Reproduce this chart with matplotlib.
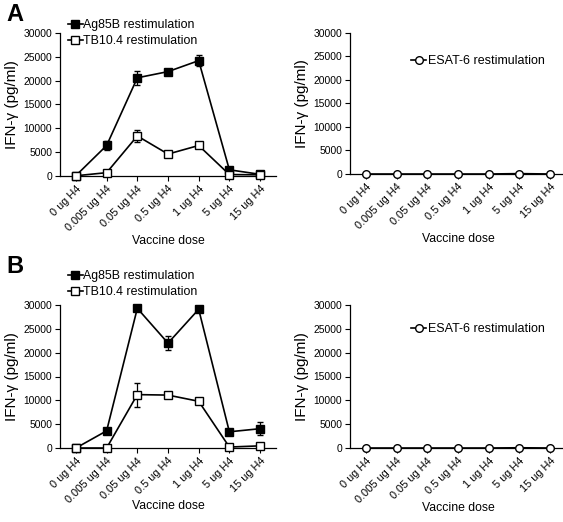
import matplotlib
matplotlib.use("Agg")
import matplotlib.pyplot as plt
from matplotlib.lines import Line2D
import numpy as np

plt.rcParams['font.family'] = ['Liberation Sans', 'DejaVu Sans']

doses = ["0 ug H4", "0.005 ug H4", "0.05 ug H4", "0.5 ug H4", "1 ug H4", "5 ug H4", "15 ug H4"]
yticks = [0, 5000, 10000, 15000, 20000, 25000, 30000]

# Panel A
a_ag85b = [100, 6400, 20600, 21900, 24200, 1300, 350]
a_ag85b_err = [0, 850, 1450, 300, 1150, 0, 0]
a_tb104 = [50, 700, 8400, 4600, 6400, 300, 250]
a_tb104_err = [0, 0, 1300, 300, 300, 0, 0]
a_esat6 = [0, 0, 0, 0, 0, 80, 0]

# Panel B
b_ag85b = [0, 3600, 29300, 22000, 29100, 3400, 4050]
b_ag85b_err = [0, 0, 0, 1400, 0, 0, 1300]
b_tb104 = [0, 0, 11200, 11100, 9800, 200, 450]
b_tb104_err = [0, 0, 2500, 0, 300, 0, 0]
b_esat6 = [0, 0, 0, 0, 0, 50, 0]

W, H = 563, 522
fig = plt.figure(figsize=(W / 100, H / 100), dpi=100)

def ax_at(x0, y_top, y_bot, x1):
    return fig.add_axes([x0 / W, 1 - y_bot / H, (x1 - x0) / W, (y_bot - y_top) / H])

def style(ax, xlabel_y, axis_bot):
    for s in ['top', 'right']:
        ax.spines[s].set_visible(False)
    for s in ['left', 'bottom']:
        ax.spines[s].set_linewidth(0.9)
    ax.set_ylim(0, 30000)
    ax.set_xlim(-0.52, 6.52)
    ax.set_yticks(yticks)
    ax.set_yticklabels([str(v) for v in yticks], fontsize=7.4)
    ax.set_xticks(range(len(doses)))
    ax.set_xticklabels(doses, rotation=45, ha='right', rotation_mode='anchor', fontsize=7.9)
    ax.tick_params(axis='both', direction='out', length=3.5, width=0.8, pad=2)
    ax.set_ylabel("IFN-\u03b3 (pg/ml)", fontsize=11, labelpad=3)
    ax.set_xlabel("Vaccine dose", fontsize=8.8)
    ax.xaxis.set_label_coords(0.5, -(xlabel_y - axis_bot) / 143)
    ax.xaxis.label.set_va('center')

x = np.arange(len(doses))
lkw = dict(color='black', lw=1.2, ms=5.5, mew=1.0, capsize=2.5, elinewidth=0.9, capthick=0.9, clip_on=False)

def left_panel(ax, ag, agerr, tb, tberr, legend_y, xlabel_y, axis_bot):
    style(ax, xlabel_y, axis_bot)
    ax.errorbar(x, ag, yerr=agerr, marker='s', mfc='black', mec='black', zorder=4, **lkw)
    ax.errorbar(x, tb, yerr=tberr, marker='s', mfc='white', mec='black', zorder=5, **lkw)
    h1 = Line2D([], [], color='black', lw=1.2, marker='s', ms=5.5, mfc='black', mec='black')
    h2 = Line2D([], [], color='black', lw=1.2, marker='s', ms=5.5, mfc='white', mec='black')
    fig.legend([h1, h2], ["Ag85B restimulation", "TB10.4 restimulation"],
               loc='upper left', bbox_to_anchor=(68 / W, 1 - legend_y / H),
               frameon=False, fontsize=8.9, handlelength=1.2, handletextpad=0.05,
               labelspacing=0.35, borderpad=0, borderaxespad=0)

def right_panel(ax, es, legend_y, xlabel_y, axis_bot):
    style(ax, xlabel_y, axis_bot)
    ax.errorbar(x, es, marker='o', mfc='white', mec='black', zorder=5, **lkw)
    h = Line2D([], [], color='black', lw=1.2, marker='o', ms=5.5, mfc='white', mec='black')
    fig.legend([h], ["ESAT-6 restimulation"],
               loc='upper left', bbox_to_anchor=(411 / W, 1 - legend_y / H),
               frameon=False, fontsize=9, handlelength=1.2, handletextpad=0.2,
               borderpad=0, borderaxespad=0)

axA1 = ax_at(60, 33, 176, 276)
left_panel(axA1, a_ag85b, a_ag85b_err, a_tb104, a_tb104_err, 19, 241, 176)
axA2 = ax_at(350, 33, 174, 566)
right_panel(axA2, a_esat6, 55, 240, 174)

axB1 = ax_at(60, 305, 448, 276)
left_panel(axB1, b_ag85b, b_ag85b_err, b_tb104, b_tb104_err, 270, 506, 448)
axB2 = ax_at(350, 305, 448, 566)
right_panel(axB2, b_esat6, 323, 508, 448)

fig.text(6 / W, 1 - 3 / H, "A", fontsize=17, fontweight='bold', va='top', ha='left')
fig.text(6 / W, 1 - 255 / H, "B", fontsize=17, fontweight='bold', va='top', ha='left')

fig.savefig("out.png", dpi=100)
